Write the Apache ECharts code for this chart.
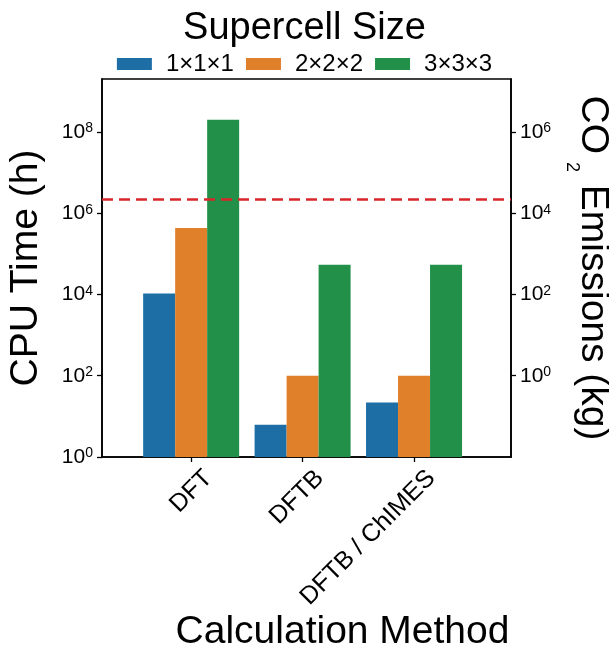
<!DOCTYPE html>
<html>
<head>
<meta charset="utf-8">
<script src="https://cdn.jsdelivr.net/npm/echarts@6/dist/echarts.min.js"></script>
<style>
html,body{margin:0;padding:0;background:#fff;}
#chart{width:609px;height:645px;}
</style>
</head>
<body>
<div id="chart"></div>
<script>
// ---- data ----
var methods = ['DFT', 'DFTB', 'DFTB / ChIMES'];
var sizes = ['1\u00d71\u00d71', '2\u00d72\u00d72', '3\u00d73\u00d73'];
var cpu111 = [1.05e4, 6.2, 22];
var cpu222 = [4.3e5, 100, 100];
var cpu333 = [2.0e8, 5.4e4, 5.4e4];
var thresholdCpu = 2.2e6;          // red dashed line (CPU hours)
var cpuMin = 1, cpuMax = 2.0e9;     // left axis range
var co2PerCpuHour = 0.01;           // right axis scale factor (kg per CPU hour)
var leftTicks = [1, 1e2, 1e4, 1e6, 1e8];
var rightTicks = [1, 1e2, 1e4, 1e6];
var colors = ['#1c6ea5', '#e0802a', '#23904a'];

var FONT = 'Liberation Sans';
function pair(arr) { return arr.map(function (v, i) { return [i, v]; }); }
function powLabel(v) {
  var e = Math.round(Math.log10(v));
  return '{b|10}{s|' + e + '}';
}
var supRich = {
  b: { fontSize: 21, lineHeight: 21, verticalAlign: 'bottom', fontFamily: FONT, color: '#000' },
  s: { fontSize: 14, lineHeight: 14, padding: [0, 0, 10, 0], verticalAlign: 'top', fontFamily: FONT, color: '#000' }
};

var seriesData = [cpu111, cpu222, cpu333];
var series = seriesData.map(function (d, i) {
  var s = {
    name: sizes[i],
    type: 'bar',
    xAxisIndex: 0,
    yAxisIndex: 0,
    data: pair(d),
    barWidth: 32,
    barGap: '0%',
    itemStyle: { color: colors[i] },
    silent: true
  };
  if (i === 2) {
    s.markLine = {
      silent: true,
      symbol: 'none',
      label: { show: false },
      lineStyle: { color: '#d9262a', width: 2.7, type: [11, 6] },
      data: [{ yAxis: thresholdCpu }]
    };
  }
  return s;
});
// invisible series bound to the right axis so it is scaled
series.push({
  type: 'line', xAxisIndex: 0, yAxisIndex: 1, data: [], silent: true
});

var chart = echarts.init(document.getElementById('chart'), null, { renderer: 'canvas' });
chart.setOption({
  animation: false,
  textStyle: { fontFamily: FONT, color: '#000' },
  title: {
    text: 'Supercell Size',
    left: 'center',
    top: 5,
    textStyle: { fontSize: 38, fontWeight: 'normal', fontFamily: FONT, color: '#000' }
  },
  legend: {
    data: sizes,
    top: 47,
    left: 'center',
    itemWidth: 35,
    itemHeight: 12,
    itemGap: 12,
    icon: 'rect',
    textStyle: { fontSize: 24, fontFamily: FONT, color: '#000', padding: [0, 0, 0, 9] }
  },
  grid: {
    left: 102, right: 98, top: 79, bottom: 188,
    containLabel: false,
    outerBoundsMode: 'none',
    show: true, borderColor: '#000', borderWidth: 1.6, backgroundColor: 'transparent'
  },
  xAxis: {
    type: 'value',
    min: -0.8,
    max: 2.87,
    name: 'Calculation Method',
    nameLocation: 'middle',
    nameGap: 156,
    nameMoveOverlap: false,
    nameTextStyle: { fontSize: 39, fontFamily: FONT, color: '#000', padding: [0, 0, 0, 72] },
    axisLine: { show: true, onZero: false, lineStyle: { color: '#000', width: 1.6 } },
    axisTick: { show: true, length: 5, lineStyle: { color: '#000', width: 1.3 }, customValues: [0, 1, 2] },
    axisLabel: {
      customValues: [0, 1, 2],
      rotate: 45,
      margin: 0,
      fontSize: 25,
      fontFamily: FONT,
      color: '#000',
      formatter: function (v) { return '{t|' + methods[Math.round(v)] + '}'; },
      rich: {
        t: { fontSize: 25, lineHeight: 25, padding: [49, 0, 0, 0], fontFamily: FONT, color: '#000' }
      }
    },
    splitLine: { show: false }
  },
  yAxis: [
    {
      type: 'log',
      logBase: 10,
      min: cpuMin,
      max: cpuMax,
      position: 'left',
      name: 'CPU Time (h)',
      nameLocation: 'middle',
      nameRotate: 90,
      nameGap: 56,
      nameMoveOverlap: false,
      nameTextStyle: { fontSize: 39, fontFamily: FONT, color: '#000' },
      axisLine: { show: true, onZero: false, lineStyle: { color: '#000', width: 1.6 } },
      axisTick: { show: true, length: 5, lineStyle: { color: '#000', width: 1.3 }, customValues: leftTicks },
      axisLabel: {
        customValues: leftTicks,
        margin: 9,
        formatter: powLabel,
        rich: supRich
      },
      splitLine: { show: false },
      minorTick: { show: false }
    },
    {
      type: 'log',
      logBase: 10,
      min: cpuMin * co2PerCpuHour,
      max: cpuMax * co2PerCpuHour,
      position: 'right',
      name: '{m|CO}{sub|2}{m| Emissions (kg)}',
      nameLocation: 'middle',
      nameRotate: -90,
      nameGap: 62,
      nameMoveOverlap: false,
      nameTextStyle: {
        fontSize: 39, fontFamily: FONT, color: '#000',
        rich: {
          m: { fontSize: 39, lineHeight: 39, verticalAlign: 'top', fontFamily: FONT, color: '#000' },
          sub: { fontSize: 18, lineHeight: 18, verticalAlign: 'top', padding: [31, 2, 0, 8], fontFamily: FONT, color: '#000' }
        }
      },
      axisLine: { show: true, onZero: false, lineStyle: { color: '#000', width: 1.6 } },
      axisTick: { show: true, length: 5, lineStyle: { color: '#000', width: 1.3 }, customValues: rightTicks },
      axisLabel: {
        customValues: rightTicks,
        margin: 9,
        formatter: powLabel,
        rich: supRich
      },
      splitLine: { show: false },
      minorTick: { show: false }
    }
  ],
  series: series
});
</script>
</body>
</html>
